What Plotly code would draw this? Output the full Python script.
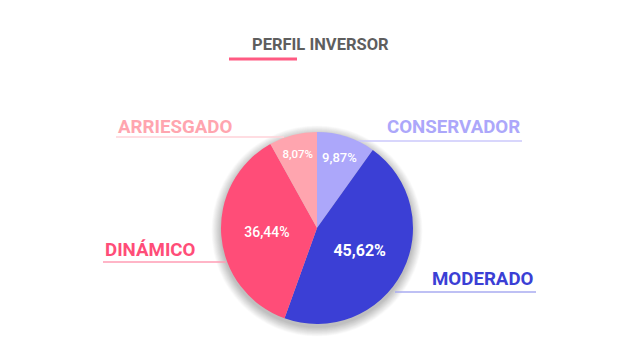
import plotly.graph_objects as go

# ---- data ----
categories = ["CONSERVADOR", "MODERADO", "DINÁMICO", "ARRIESGADO"]
values = [9.87, 45.62, 36.44, 8.07]
title_text = "PERFIL INVERSOR"

# ---- styles ----
slice_colors = ["#aca7fa", "#3b3fd5", "#ff4d78", "#ffa5af"]
label_colors = ["#aca7fa", "#3b3fd5", "#ff4d78", "#ffa5af"]
line_colors = ["#cbc8fb", "#a9abf0", "#ff9db4", "#ffd2d8"]
text_sizes = [13, 16, 14, 11.5]

W, H = 640, 360
cx, cy, R = 317, 228, 96

def px(x):
    return x / W

def py(y):
    return 1 - y / H

texts = [f"{v:.2f}".replace(".", ",") + "%" for v in values]

fig = go.Figure()
fig.add_trace(go.Pie(
    labels=categories,
    values=values,
    text=texts,
    textinfo="text",
    textposition="inside",
    insidetextorientation="horizontal",
    sort=False,
    direction="clockwise",
    rotation=0,
    marker=dict(colors=slice_colors, line=dict(width=0)),
    insidetextfont=dict(family="Roboto", color="white", size=text_sizes, weight=[500, 700, 500, 500]),
    showlegend=False,
    hoverinfo="label+percent",
    domain=dict(x=[px(cx - R), px(cx + R)], y=[py(cy + R), py(cy - R)]),
))

shapes = []
# soft shadow behind the pie
for k in range(16, 0, -1):
    shapes.append(dict(
        type="circle", layer="below",
        xref="paper", yref="paper",
        xsizemode="pixel", ysizemode="pixel",
        xanchor=px(cx), yanchor=py(cy + 3),
        x0=-(R + k * 0.6), x1=(R + k * 0.6),
        y0=-(R + k * 0.6), y1=(R + k * 0.6),
        fillcolor="rgba(0,0,0,0.014)", line=dict(width=0),
    ))

# label lines: (x0, x1, y) in pixels
label_lines = [(358, 522, 141), (395, 536, 292), (103, 226, 262), (116, 284, 137)]
for (x0, x1, y), c in zip(label_lines, line_colors):
    shapes.append(dict(type="line", layer="below", xref="paper", yref="paper",
                       x0=px(x0), x1=px(x1), y0=py(y), y1=py(y),
                       line=dict(color=c, width=1.5)))

# title underline
shapes.append(dict(type="line", xref="paper", yref="paper",
                   x0=px(229), x1=px(297), y0=py(59), y1=py(59),
                   line=dict(color="#ff5a82", width=3)))

annotations = []
# label positions: (x, anchor, cap-centre y)
label_pos = [(522, "right", 127), (536, "right", 279), (103, "left", 250), (116, "left", 127)]
for name, (x, anc, y), c in zip(categories, label_pos, label_colors):
    annotations.append(dict(text=name, x=px(x), y=py(y), xref="paper", yref="paper",
                            xanchor=anc, yanchor="middle", showarrow=False,
                            font=dict(family="Roboto", size=18.7, color=c, weight=700)))

annotations.append(dict(text=title_text, x=px(320), y=py(44.5), xref="paper", yref="paper",
                        xanchor="center", yanchor="middle", showarrow=False,
                        font=dict(family="Roboto", size=16.5, color="#5e5e5e", weight=700)))

fig.update_layout(
    width=W, height=H,
    margin=dict(l=0, r=0, t=0, b=0),
    paper_bgcolor="white", plot_bgcolor="white",
    shapes=shapes, annotations=annotations,
)

fig.write_html("out.html")
